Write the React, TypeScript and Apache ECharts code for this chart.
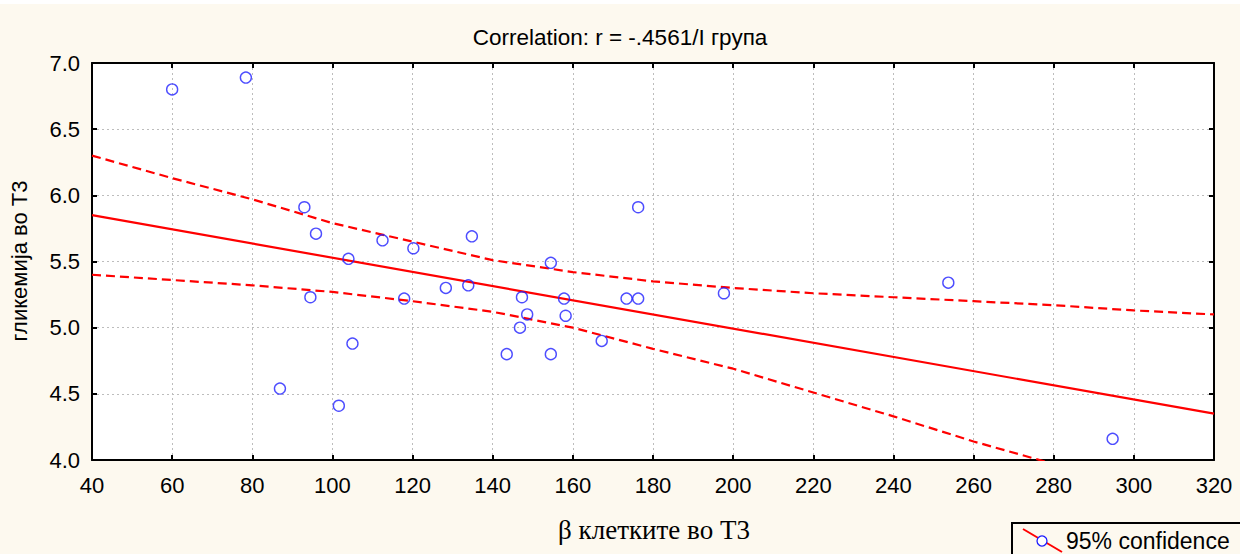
import React, { useEffect, useRef } from "react";
import * as echarts from "echarts";

const xValues = [60, 78.4, 86.9, 93.0, 95.9, 94.5, 104.0, 105.0, 101.6, 112.5, 117.9, 120.2, 128.3, 133.9, 134.8, 143.5, 146.8, 147.3, 148.6, 154.5, 154.5, 157.8, 158.2, 167.2, 173.4, 176.3, 176.3, 197.7, 253.7, 294.7];
const yValues = [6.80, 6.89, 4.54, 5.91, 5.71, 5.23, 5.52, 4.88, 4.41, 5.66, 5.22, 5.60, 5.30, 5.32, 5.69, 4.80, 5.00, 5.23, 5.10, 5.49, 4.80, 5.22, 5.09, 4.90, 5.22, 5.22, 5.91, 5.26, 5.34, 4.16];

const fitLine = [[40, 5.85], [320, 4.35]];
const bandX = [40, 60, 80, 100, 120, 140, 160, 180, 200, 220, 240, 260, 280, 300, 320];
const upperBand = [6.30, 6.13, 5.97, 5.79, 5.65, 5.51, 5.42, 5.35, 5.30, 5.26, 5.23, 5.20, 5.17, 5.13, 5.10];
const lowerBand = [5.40, 5.36, 5.32, 5.27, 5.20, 5.12, 5.00, 4.84, 4.69, 4.51, 4.33, 4.14, 3.97, 3.79, 3.61];

const titleText = "Correlation: r = -.4561/I група";
const xName = "β клетките во Т3";
const yName = "гликемија во Т3";
const legendText = "95% confidence";

const SANS = "'Liberation Sans', Arial, sans-serif";
const SERIF = "'Liberation Serif', 'Times New Roman', serif";

export default function App() {
  const ref = useRef<HTMLDivElement>(null);
  useEffect(() => {
    document.body.style.margin = "0";
    const chart = echarts.init(ref.current!, null, { renderer: "svg" });
    const gridLeft = 92, gridTop = 63, gridRight = 26, gridBottom = 94;
    chart.setOption({
      animation: false,
      backgroundColor: "#fdf9ef",
      grid: {
        left: gridLeft,
        right: gridRight,
        top: gridTop,
        bottom: gridBottom,
        show: true,
        backgroundColor: "#ffffff",
        borderWidth: 0,
      },
      xAxis: [
        {
          type: "value",
          position: "bottom",
          min: 40,
          max: 320,
          interval: 20,
          axisLine: { show: true, onZero: false, lineStyle: { color: "#000", width: 2 } },
          axisTick: { show: true, inside: true, length: 5, lineStyle: { color: "#000", width: 2 } },
          axisLabel: { color: "#000", fontSize: 22, fontFamily: SANS, margin: 14 },
          splitLine: { show: true, lineStyle: { color: "#bdbdbd", type: [2, 3], width: 1 } },
        },
        {
          type: "value",
          position: "top",
          min: 40,
          max: 320,
          interval: 20,
          axisLine: { show: true, onZero: false, lineStyle: { color: "#000", width: 2 } },
          axisTick: { show: true, inside: true, length: 5, lineStyle: { color: "#000", width: 2 } },
          axisLabel: { show: false },
          splitLine: { show: false },
        },
      ],
      yAxis: [
        {
          type: "value",
          position: "left",
          min: 4,
          max: 7,
          interval: 0.5,
          axisLine: { show: true, onZero: false, lineStyle: { color: "#000", width: 2 } },
          axisTick: { show: true, inside: true, length: 5, lineStyle: { color: "#000", width: 2 } },
          axisLabel: {
            color: "#000",
            fontSize: 22,
            fontFamily: SANS,
            margin: 12,
            formatter: (v: number) => v.toFixed(1),
          },
          splitLine: { show: true, lineStyle: { color: "#bdbdbd", type: [2, 3], width: 1 } },
        },
        {
          type: "value",
          position: "right",
          min: 4,
          max: 7,
          interval: 0.5,
          axisLine: { show: true, onZero: false, lineStyle: { color: "#000", width: 2 } },
          axisTick: { show: true, inside: true, length: 5, lineStyle: { color: "#000", width: 2 } },
          axisLabel: { show: false },
          splitLine: { show: false },
        },
      ],
      series: [
        {
          type: "line",
          data: fitLine,
          symbol: "none",
          lineStyle: { color: "#ff0000", width: 2.2 },
          clip: true,
          z: 2,
        },
        {
          type: "line",
          data: bandX.map((x, i) => [x, upperBand[i]]),
          symbol: "none",
          lineStyle: { color: "#ff0000", width: 2.2, type: [9, 5] },
          clip: true,
          z: 2,
        },
        {
          type: "line",
          data: bandX.map((x, i) => [x, lowerBand[i]]),
          symbol: "none",
          lineStyle: { color: "#ff0000", width: 2.2, type: [9, 5] },
          clip: true,
          z: 2,
        },
        {
          type: "scatter",
          data: xValues.map((x, i) => [x, yValues[i]]),
          symbol: "circle",
          symbolSize: 11,
          itemStyle: { color: "rgba(255,255,255,0)", borderColor: "#2020ff", borderWidth: 1.4 },
          z: 3,
        },
      ],
      graphic: [
        { type: "rect", left: 0, top: 0, shape: { width: 1240, height: 4 }, style: { fill: "#ffffff" }, silent: true },
        {
          type: "text",
          x: 620,
          y: 37,
          style: { text: titleText, fill: "#000", font: `22.5px ${SANS}`, textAlign: "center", textVerticalAlign: "middle" },
        },
        {
          type: "text",
          x: 654,
          y: 530,
          style: { text: xName, fill: "#000", font: `27px ${SERIF}`, textAlign: "center", textVerticalAlign: "middle" },
        },
        {
          type: "text",
          x: 19,
          y: 261,
          rotation: Math.PI / 2,
          style: { text: yName, fill: "#000", font: `22px ${SANS}`, textAlign: "center", textVerticalAlign: "middle" },
        },
        {
          type: "rect",
          shape: { x: 1012, y: 523, width: 260, height: 60 },
          style: { fill: "#fdf9ef", stroke: "#000", lineWidth: 2 },
        },
        {
          type: "line",
          shape: { x1: 1023, y1: 529, x2: 1062, y2: 552 },
          style: { stroke: "#ff0000", lineWidth: 2 },
        },
        {
          type: "circle",
          shape: { cx: 1042, cy: 541, r: 5 },
          style: { fill: "#ffffff", stroke: "#2020ff", lineWidth: 1.3 },
        },
        {
          type: "text",
          x: 1066,
          y: 541,
          style: { text: legendText, fill: "#000", font: `23px ${SANS}`, textAlign: "left", textVerticalAlign: "middle" },
        },
      ],
    });
    return () => chart.dispose();
  }, []);
  return <div ref={ref} style={{ position: "fixed", left: 0, top: 0, width: 1240, height: 554 }} />;
}
